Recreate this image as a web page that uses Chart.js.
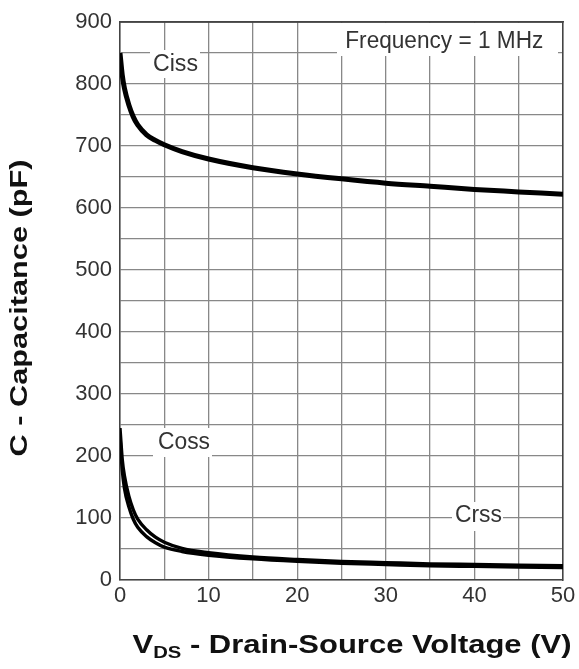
<!DOCTYPE html>
<html>
<head>
<meta charset="utf-8">
<script src="https://cdn.jsdelivr.net/npm/chart.js@4.4.0/dist/chart.umd.min.js"></script>
<style>
  html, body { margin: 0; padding: 0; background: #fff; }
  #wrap { width: 579px; height: 669px; }
</style>
</head>
<body>
<div id="wrap"><canvas id="capChart" width="579" height="669"></canvas></div>
<script>
// VDS (V) sample points
const vds = [0, 0.25, 0.5, 1, 1.5, 2, 3, 4, 5, 7, 10, 15, 20, 25, 30, 35, 40, 45, 50];
// capacitance (pF)
const ciss = [850, 815, 793, 766, 747, 734, 718, 709, 702, 691, 679, 665, 655, 647, 640, 635, 630, 626, 622];
const coss = [245, 195, 168, 135, 113, 98, 81, 69, 61, 51, 44, 37, 33, 30, 28, 26, 25, 24, 23];
const crss = [232, 178, 148, 118, 98, 85, 70, 60, 53, 46, 40, 34, 30, 27, 25, 23, 22, 21, 20];

const xTicks = [0, 10, 20, 30, 40, 50];
const yTicks = [0, 100, 200, 300, 400, 500, 600, 700, 800, 900];

const toXY = arr => arr.map((c, i) => ({ x: vds[i], y: c }));

const FONT = '"Liberation Sans", Arial, sans-serif';

// boxed labels that cut the grid lines (v, c = centre in data units)
const notes = [
  { text: 'Ciss', v: 6.26, c: 832, w: 45, box: [150, 50, 200, 78] },
  { text: 'Frequency = 1 MHz', v: 36.6, c: 869, w: 198, box: [337, 23, 558, 56] },
  { text: 'Coss', v: 7.22, c: 221, w: 52, box: [153, 428, 212, 457] },
  { text: 'Crss', v: 40.46, c: 103, w: 47, box: [452, 502, 503, 531] }
];

// draw text centred at (0,0) of the current transform, stretched to a width
function fitText(ctx, text, width) {
  const m = ctx.measureText(text).width;
  ctx.scale(width / m, 1);
  ctx.fillText(text, 0, 0);
}

const extras = {
  id: 'extras',
  beforeDatasetsDraw(chart) {
    const ctx = chart.ctx;
    const xs = chart.scales.x, ys = chart.scales.y;
    ctx.save();
    notes.forEach(n => {
      const b = n.box;
      ctx.fillStyle = '#fff';
      ctx.fillRect(b[0], b[1], b[2] - b[0], b[3] - b[1]);
    });
    ctx.strokeStyle = '#444';
    ctx.lineWidth = 1.5;
    ctx.beginPath();
    ctx.moveTo(chart.chartArea.left, chart.chartArea.top);
    ctx.lineTo(chart.chartArea.right, chart.chartArea.top);
    ctx.stroke();
    ctx.restore();

    notes.forEach(n => {
      ctx.save();
      ctx.fillStyle = '#333';
      ctx.font = '23px ' + FONT;
      ctx.textAlign = 'center';
      ctx.textBaseline = 'middle';
      ctx.translate(xs.getPixelForValue(n.v), ys.getPixelForValue(n.c));
      fitText(ctx, n.text, n.w);
      ctx.restore();
    });
  },
  afterDraw(chart) {
    const ctx = chart.ctx;
    // y title
    ctx.save();
    ctx.fillStyle = '#111';
    ctx.font = 'bold 23px ' + FONT;
    ctx.textAlign = 'center';
    ctx.textBaseline = 'middle';
    ctx.translate(21, 308);
    ctx.rotate(-Math.PI / 2);
    fitText(ctx, 'C - Capacitance (pF)', 297);
    ctx.restore();

    // x title with subscript
    ctx.save();
    ctx.fillStyle = '#111';
    ctx.textBaseline = 'alphabetic';
    const big = 'bold 26px ' + FONT;
    const small = 'bold 17px ' + FONT;
    ctx.font = big;
    const wV = ctx.measureText('V').width;
    const rest = ' - Drain-Source Voltage (V)';
    const wRest = ctx.measureText(rest).width;
    ctx.font = small;
    const wDS = ctx.measureText('DS').width;
    const total = wV + wDS + wRest;
    const target = 439;
    ctx.translate(352 - target / 2, 653);
    ctx.scale(target / total, 1);
    let x = 0;
    ctx.font = big;
    ctx.fillText('V', x, 0);
    x += wV;
    ctx.font = small;
    ctx.fillText('DS', x, 5);
    x += wDS;
    ctx.font = big;
    ctx.fillText(rest, x, 0);
    ctx.restore();
  }
};

const lineStyle = (label, data, w) => ({
  label: label,
  data: toXY(data),
  borderColor: '#000',
  borderWidth: w,
  pointRadius: 0,
  fill: false,
  cubicInterpolationMode: 'monotone'
});

new Chart(document.getElementById('capChart'), {
  type: 'line',
  data: {
    datasets: [
      lineStyle('Ciss', ciss, 5),
      lineStyle('Coss', coss, 3.4),
      lineStyle('Crss', crss, 3.4)
    ]
  },
  options: {
    responsive: false,
    animation: false,
    layout: { padding: { left: 0, right: 16, top: 22, bottom: 0 } },
    plugins: {
      legend: { display: false },
      tooltip: { enabled: false }
    },
    scales: {
      x: {
        type: 'linear',
        min: 0,
        max: 50,
        afterFit: s => { s.height = 89; },
        ticks: {
          stepSize: 5,
          autoSkip: false,
          maxRotation: 0,
          color: '#333',
          padding: 3,
          font: { size: 22, family: FONT },
          callback: v => xTicks.includes(v) ? String(v) : ''
        },
        grid: { color: '#888', lineWidth: 1.3, drawTicks: false },
        border: { color: '#444', width: 1.5 }
      },
      y: {
        min: 0,
        max: 900,
        afterFit: s => { s.width = 120; },
        ticks: {
          stepSize: 50,
          autoSkip: false,
          color: '#333',
          padding: 8,
          font: { size: 22, family: FONT },
          callback: v => yTicks.includes(v) ? String(v) : ''
        },
        grid: { color: '#888', lineWidth: 1.3, drawTicks: false },
        border: { color: '#444', width: 1.5 }
      },
      x2: {
        type: 'linear', position: 'top', min: 0, max: 50, display: true,
        afterFit: s => { s.height = 0; },
        ticks: { display: false },
        grid: { display: false },
        border: { color: '#444', width: 1.5 }
      },
      y2: {
        position: 'right', min: 0, max: 900, display: true,
        afterFit: s => { s.width = 0; },
        ticks: { display: false },
        grid: { display: false },
        border: { color: '#444', width: 1.5 }
      }
    }
  },
  plugins: [extras]
});
</script>
</body>
</html>
